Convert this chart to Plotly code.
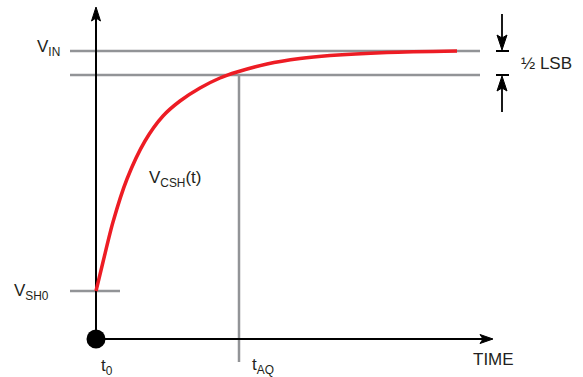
import plotly.graph_objects as go

# ---- diagram values (time on x, voltage on y; arbitrary units) ----
T0 = 0
T_AQ = 143
T_AXIS_END = 397
V_AXIS_END = 332
V_SH0 = 48
V_IN = 288
HALF_LSB = 24
V_SETTLED = V_IN - HALF_LSB
T_LINE_START = -26
T_LINE_END = 384
T_SH0_LINE_END = 24
V_TAQ_LINE_BOTTOM = -23
T_LSB_MARK = 406
LSB_ARROW_LEN = 37

# V_CSH(t) settling curve samples
curve_t = [0, 7, 17, 31, 49, 67, 84, 104, 124, 141, 171, 204, 234, 291, 361]
curve_v = [48, 77, 117, 160, 198, 223, 238, 251, 261, 267, 275, 280.5, 283.5, 286.5, 288]

GRAY = "#929497"
RED = "#ED1C24"
BLACK = "#000000"
FONT = "Liberation Sans, Arial, sans-serif"

fig = go.Figure()


def seg(xs, ys, color, width):
    fig.add_trace(go.Scatter(x=xs, y=ys, mode="lines", line=dict(color=color, width=width),
                             hoverinfo="skip", showlegend=False))


def head(tx, ty, dx, dy, length, hw):
    # filled arrow head, tip at (tx, ty), pointing in direction (dx, dy)
    bx, by = tx - dx * length, ty - dy * length
    px, py = -dy, dx
    nx, ny = tx - dx * (length - 3), ty - dy * (length - 3)
    xs = [tx, bx + px * hw, nx, bx - px * hw, tx]
    ys = [ty, by + py * hw, ny, by - py * hw, ty]
    fig.add_trace(go.Scatter(x=xs, y=ys, mode="lines", fill="toself", fillcolor=BLACK,
                             line=dict(color=BLACK, width=1), hoverinfo="skip", showlegend=False))


# reference lines
seg([T_LINE_START, T_LINE_END], [V_IN, V_IN], GRAY, 2.5)
seg([T_LINE_START, T_LINE_END], [V_SETTLED, V_SETTLED], GRAY, 2.5)
seg([T_LINE_START, T_SH0_LINE_END], [V_SH0, V_SH0], GRAY, 2.5)
seg([T_AQ, T_AQ], [V_SETTLED, V_TAQ_LINE_BOTTOM], GRAY, 2.5)

# axes
seg([T0, T0], [0, V_AXIS_END - 10], BLACK, 2)
seg([T0, T_AXIS_END - 10], [0, 0], BLACK, 2)
head(T0, V_AXIS_END, 0, 1, 14, 4.5)
head(T_AXIS_END, 0, 1, 0, 13, 4.5)

# curve
fig.add_trace(go.Scatter(x=curve_t, y=curve_v, mode="lines",
                         line=dict(color=RED, width=3.5, shape="spline", smoothing=0.8),
                         hoverinfo="skip", showlegend=False))

# origin dot
fig.add_trace(go.Scatter(x=[T0], y=[0], mode="markers",
                         marker=dict(color=BLACK, size=19), hoverinfo="skip", showlegend=False))

# 1/2 LSB marker
seg([T_LSB_MARK - 6, T_LSB_MARK + 7], [V_IN, V_IN], BLACK, 2)
seg([T_LSB_MARK - 6, T_LSB_MARK + 7], [V_SETTLED, V_SETTLED], BLACK, 2)
seg([T_LSB_MARK, T_LSB_MARK], [V_IN + LSB_ARROW_LEN, V_IN + 8], BLACK, 1.8)
seg([T_LSB_MARK, T_LSB_MARK], [V_SETTLED - LSB_ARROW_LEN, V_SETTLED - 8], BLACK, 1.8)
head(T_LSB_MARK, V_IN + 1, 0, -1, 15, 5)
head(T_LSB_MARK, V_SETTLED - 1, 0, 1, 15, 5)

labels = [
    ("V<sub>IN</sub>", -34, 291, "right"),
    ("V<sub>SH0</sub>", -45, 47, "right"),
    ("V<sub>CSH</sub>(t)", 51, 160, "left"),
    ("t<sub>0</sub>", 3, -28, "left"),
    ("t<sub>AQ</sub>", 154, -27, "left"),
    ("TIME", 375, -20, "left"),
    ("½ LSB", 423, 276, "left"),
]
for txt, x, y, xa in labels:
    fig.add_annotation(x=x, y=y, text=txt, showarrow=False, xanchor=xa, yanchor="middle",
                       font=dict(family=FONT, size=17, color="#231F20"))

fig.update_layout(
    width=583, height=377, margin=dict(l=0, r=0, t=0, b=0),
    paper_bgcolor="white", plot_bgcolor="white",
    xaxis=dict(range=[-96, 487], visible=False, fixedrange=True),
    yaxis=dict(range=[-38, 339], visible=False, fixedrange=True),
)

fig.write_html("out.html")
